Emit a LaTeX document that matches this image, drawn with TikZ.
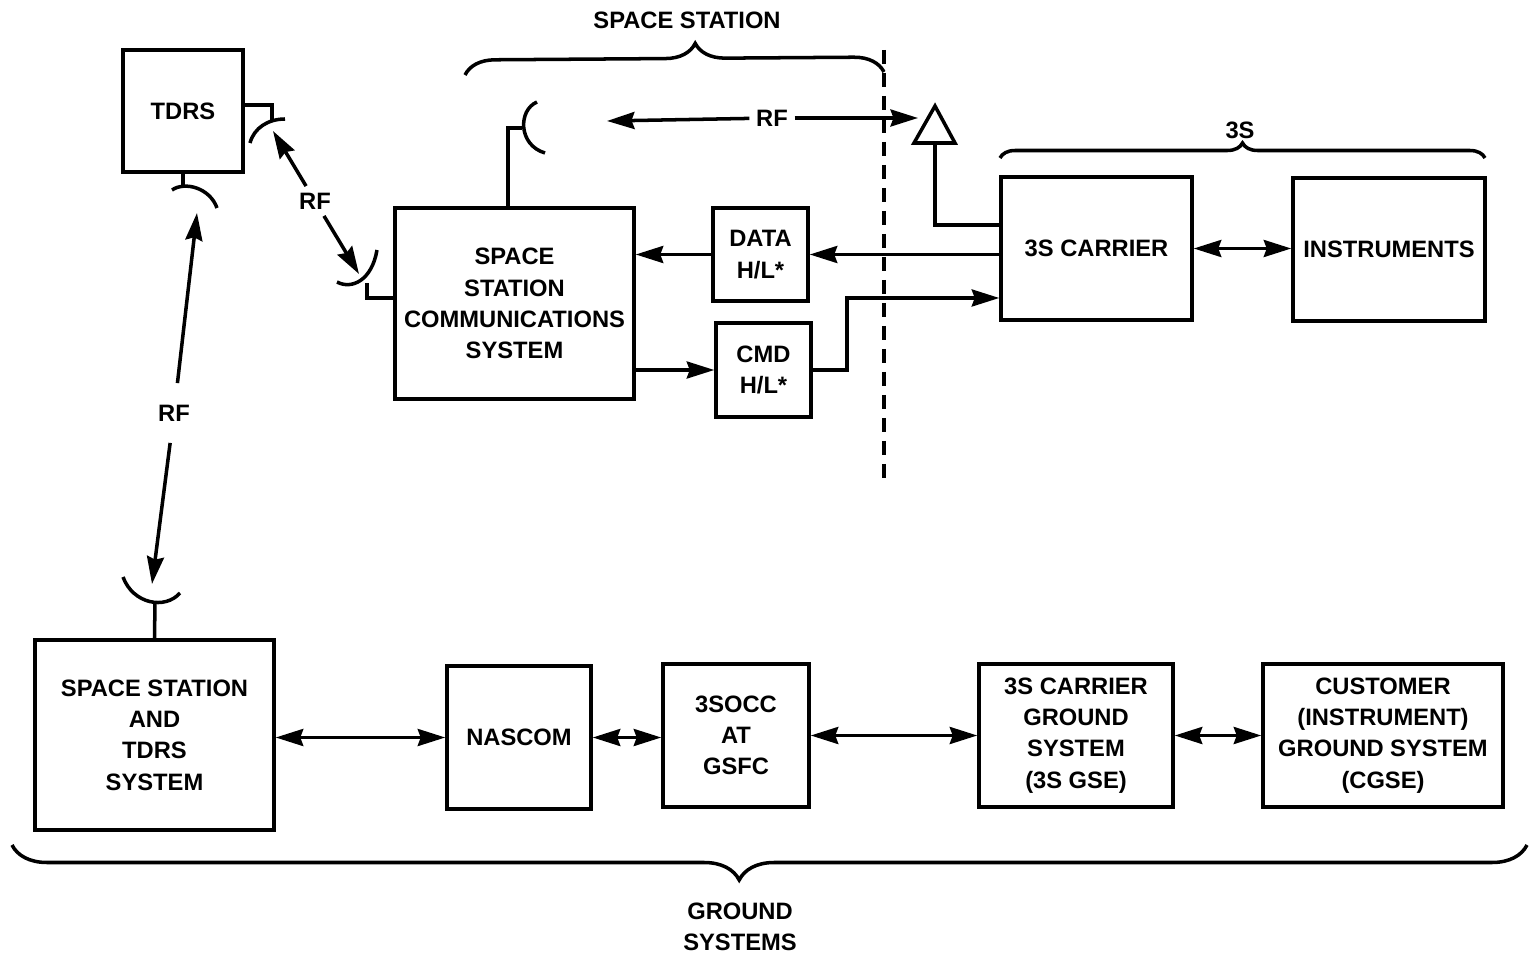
\documentclass[tikz,border=0pt]{standalone}
\usepackage{fontspec}
\setmainfont{Liberation Sans}
\usepackage{tikz}
\usetikzlibrary{positioning,arrows.meta,decorations.pathreplacing}

\begin{document}
\begin{tikzpicture}[x=0.02cm,y=-0.02cm,line width=2pt,
  lbl/.style={font=\fontsize{13.5}{17.8}\selectfont\bfseries,align=center},
  blk/.style={lbl,draw,inner sep=0pt},
  rf/.style={lbl,inner sep=0.1cm},
  arr/.style={-{Stealth[length=0.55cm,width=0.34cm,inset=0.06cm]}},
  arrs/.style={{Stealth[length=0.55cm,width=0.34cm,inset=0.06cm]}-{Stealth[length=0.55cm,width=0.34cm,inset=0.06cm]}},
  brc/.style={decorate,decoration={brace,amplitude=#1}},
  brc/.default=0.5cm]
\useasboundingbox (0,0) rectangle (1529,956);

\node[blk,minimum width=2.40cm,minimum height=2.44cm] (tdrs) at (183,111) {TDRS};
\node[blk,minimum width=4.78cm,minimum height=3.82cm] (sscs) at (514.5,303.5) {SPACE\\STATION\\COMMUNICATIONS\\SYSTEM};
\node[blk,minimum width=1.90cm,minimum height=1.86cm] (data) at (760.5,254.5) {DATA\\H/L*};
\node[blk,minimum width=1.90cm,minimum height=1.88cm] (cmd) at (763.5,370) {CMD\\H/L*};
\node[blk,minimum width=3.82cm,minimum height=2.86cm] (carrier) at (1096.5,248.5) {3S CARRIER};
\node[blk,minimum width=3.84cm,minimum height=2.86cm] (instr) at (1389,249.5) {INSTRUMENTS};
\node[blk,minimum width=4.78cm,minimum height=3.80cm] (sstdrs) at (154.5,735) {SPACE STATION\\AND\\TDRS\\SYSTEM};
\node[blk,minimum width=2.88cm,minimum height=2.86cm] (nascom) at (519,737.5) {NASCOM};
\node[blk,minimum width=2.92cm,minimum height=2.86cm] (socc) at (736,735.5) {3SOCC\\AT\\GSFC};
\node[blk,minimum width=3.88cm,minimum height=2.86cm] (gse) at (1076,735.5) {3S CARRIER\\GROUND\\SYSTEM\\(3S GSE)};
\node[blk,minimum width=4.80cm,minimum height=2.86cm] (cust) at (1383,735.5) {CUSTOMER\\(INSTRUMENT)\\GROUND SYSTEM\\(CGSE)};

\node[lbl] (sslbl) at (687,20) {SPACE STATION};
\node[lbl] (slbl) at (1240,130) {3S};
\node[lbl] (gndlbl) at (740,927) {GROUND\\SYSTEMS};
\node[rf] (rfa) at (315,201) {RF};
\node[rf] (rfb) at (772,118) {RF};
\node[rf,inner ysep=0.4cm] (rfc) at (174,413) {RF};

\coordinate (tdrsr) at (273,131);
\coordinate (sscsl) at (359,274);
\coordinate (sscst) at (607,121);
\coordinate (trit) at (918,118);
\coordinate (tdrsb) at (197,213);
\coordinate (gndant) at (152,584);
\coordinate (tri) at (935,143);
\coordinate (cmdin) at ([yshift=-0.99cm]carrier.west);

\draw ([yshift=0.12cm]tdrs.east) -| (272,121);
\draw (250,143) .. controls (254,128) and (268,119) .. (285,119);
\draw (tdrs.south) -- (183,185);
\draw (172,190) .. controls (185,181) and (210,188) .. (217,208);
\draw ([yshift=0.11cm]sscs.west) -| (367,283);
\draw (337,282) .. controls (352,290) and (372,280) .. (377,250);
\draw ([xshift=-0.13cm]sscs.north) |- (522,128);
\draw (537,102) .. controls (518,110) and (518,145) .. (545,153);
\draw (sstdrs.north) -- (155,603);
\draw (123,577) .. controls (133,604) and (165,610) .. (180,593);
\draw (tri) ++(-21,0) -- ++(21,-37) -- ++(20,37) -- cycle;
\draw (tri) |- ([yshift=0.47cm]carrier.west);

\draw[arr] (rfa) -- (tdrsr);
\draw[arr] (rfa) -- (sscsl);
\draw[arr] (rfb) -- (sscst);
\draw[arr] (rfb) -- (trit);
\draw[arr] (rfc) -- (tdrsb);
\draw[arr] (rfc) -- (gndant);

\draw[arr] (carrier.west |- data.east) -- (data.east);
\draw[arr] (data.west) -- (data.west -| sscs.east);
\draw[arr] (cmd.west -| sscs.east) -- (cmd.west);
\draw[arr] (cmd.east) -- ++(34,0) |- (cmdin);
\draw[arrs] (carrier.east) -- (carrier.east -| instr.west);

\draw[arrs] (sstdrs.east |- nascom.west) -- (nascom.west);
\draw[arrs] (nascom.east) -- (nascom.east -| socc.west);
\draw[arrs] (socc.east) -- (socc.east -| gse.west);
\draw[arrs] (gse.east) -- (gse.east -| cust.west);

\draw[line width=2.4pt,dash pattern=on 0.28cm off 0.18cm] (884,50) -- (884,480);
\draw[brc=0.6cm,decoration={aspect=0.55}] (465,75) -- (884,72);
\draw[brc=0.3cm] (1000,158) -- (1485,158);
\draw[brc=0.7cm,decoration={aspect=0.52}] (1527,845) -- (12,845);
\end{tikzpicture}
\end{document}
